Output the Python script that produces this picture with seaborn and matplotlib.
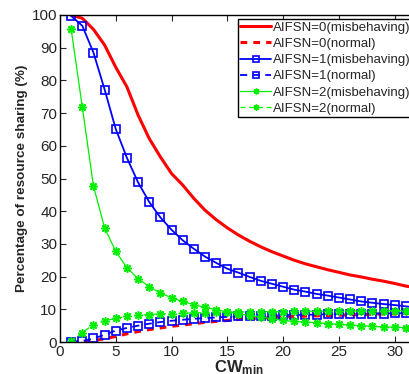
import matplotlib
matplotlib.use("Agg")
import matplotlib.pyplot as plt
import seaborn as sns
import numpy as np

cw = list(range(1, 33))

a0_mis = [100, 99.0, 95.6, 90.8, 84.0, 78.0, 69.4, 62.2, 56.6, 51.5, 48.0, 43.9, 40.3, 37.4, 34.9, 32.7,
          30.8, 29.1, 27.6, 26.3, 25.0, 23.9, 23.0, 22.1, 21.3, 20.5, 19.9, 19.2, 18.6, 17.9, 17.1, 16.6]
a0_nor = [0, 0, 0.4, 1.0, 1.7, 2.5, 3.2, 3.8, 4.3, 4.8, 5.2, 5.6, 6.0, 6.3, 6.6, 6.9,
          7.1, 7.3, 7.5, 7.7, 7.8, 7.9, 8.0, 8.1, 8.2, 8.3, 8.4, 8.5, 8.6, 8.6, 8.7, 8.7]
a1_mis = [99.7, 96.7, 88.5, 77.2, 65.1, 56.3, 48.8, 42.8, 38.1, 34.3, 31.1, 28.5, 26.1, 24.2, 22.4, 21.2,
          19.9, 18.7, 17.8, 16.9, 16.0, 15.4, 14.7, 14.2, 13.6, 13.0, 12.4, 12.0, 11.6, 11.3, 10.9, 10.5]
a1_nor = [0, 0.3, 1.1, 2.2, 3.5, 4.3, 5.0, 5.6, 6.1, 6.5, 6.8, 7.1, 7.3, 7.5, 7.7, 7.8,
          7.9, 8.0, 8.1, 8.2, 8.3, 8.3, 8.4, 8.5, 8.5, 8.6, 8.6, 8.7, 8.7, 8.8, 8.8, 8.8]
a2_mis = [95.7, 71.8, 47.7, 34.9, 27.7, 22.7, 19.4, 16.9, 15.0, 13.5, 12.4, 11.4, 10.6, 9.9, 9.2, 8.6,
          8.1, 7.7, 7.1, 6.6, 6.3, 6.1, 5.9, 5.6, 5.4, 5.2, 5.0, 4.8, 4.6, 4.5, 4.4, 4.3]
a2_nor = [0.3, 2.9, 5.3, 6.5, 7.2, 7.9, 8.2, 8.4, 8.6, 8.7, 8.8, 8.9, 9.0, 9.1, 9.1, 9.2,
          9.2, 9.3, 9.3, 9.3, 9.4, 9.4, 9.4, 9.4, 9.5, 9.5, 9.5, 9.5, 9.5, 9.6, 9.6, 9.6]

labels = ["AIFSN=0(misbehaving)", "AIFSN=0(normal)", "AIFSN=1(misbehaving)",
          "AIFSN=1(normal)", "AIFSN=2(misbehaving)", "AIFSN=2(normal)"]

sns.set_style("ticks")
plt.rcParams['font.family'] = ['Liberation Sans', 'DejaVu Sans']
plt.rcParams['mathtext.fontset'] = 'custom'
plt.rcParams['mathtext.rm'] = 'Liberation Sans'
plt.rcParams['mathtext.bf'] = 'Liberation Sans:bold'

green = '#00ee00'
star = (8, 2, 0)  # matlab-like asterisk

fig = plt.figure(figsize=(4.10, 3.74), dpi=100)
ax = fig.add_axes([60 / 410, 32 / 374, 357 / 410, 327 / 374])

sns.lineplot(x=cw, y=a0_mis, ax=ax, color='red', lw=2.2, label=labels[0])
sns.lineplot(x=cw, y=a0_nor, ax=ax, color='red', lw=2.2, linestyle=(0, (2.2, 2)), label=labels[1])
sns.lineplot(x=cw, y=a1_mis, ax=ax, color='blue', lw=1.3, marker='s', markersize=6,
             markerfacecolor='none', markeredgecolor='blue', markeredgewidth=1.2, label=labels[2])
sns.lineplot(x=cw, y=a1_nor, ax=ax, color='blue', lw=1.3, linestyle=(0, (4, 3)), marker='s', markersize=6,
             markerfacecolor='none', markeredgecolor='blue', markeredgewidth=1.2, label=labels[3])
sns.lineplot(x=cw, y=a2_mis, ax=ax, color=green, lw=0.9, marker=star, markersize=6,
             markeredgecolor=green, markeredgewidth=1.1, label=labels[4])
sns.lineplot(x=cw, y=a2_nor, ax=ax, color=green, lw=0.9, linestyle=(0, (4, 3)), marker=star, markersize=6,
             markeredgecolor=green, markeredgewidth=1.1, label=labels[5])

ax.set_xlim(0, 32)
ax.set_ylim(0, 100)
ax.set_xticks([0, 5, 10, 15, 20, 25, 30])
ax.set_yticks(range(0, 101, 10))
ax.tick_params(direction='in', top=True, right=True, labelsize=11, length=4, width=0.8, pad=2)
for s in ax.spines.values():
    s.set_linewidth(1.0)
    s.set_color('black')

ax.set_xlabel(r'$\mathbf{CW_{min}}$', fontsize=12, labelpad=0)
ax.set_ylabel('Percentage of resource sharing (%)', fontsize=9.7, fontweight='bold', labelpad=3)

leg = ax.legend(loc='upper right', fontsize=9.5, frameon=True, fancybox=False, borderpad=0.2,
                labelspacing=0.3, handlelength=2.3, handletextpad=0.15, borderaxespad=0.3,
                markerscale=0.7)
leg.get_frame().set_edgecolor('black')
leg.get_frame().set_linewidth(1.0)
leg.get_frame().set_alpha(1)

fig.savefig("out.png", dpi=100)
